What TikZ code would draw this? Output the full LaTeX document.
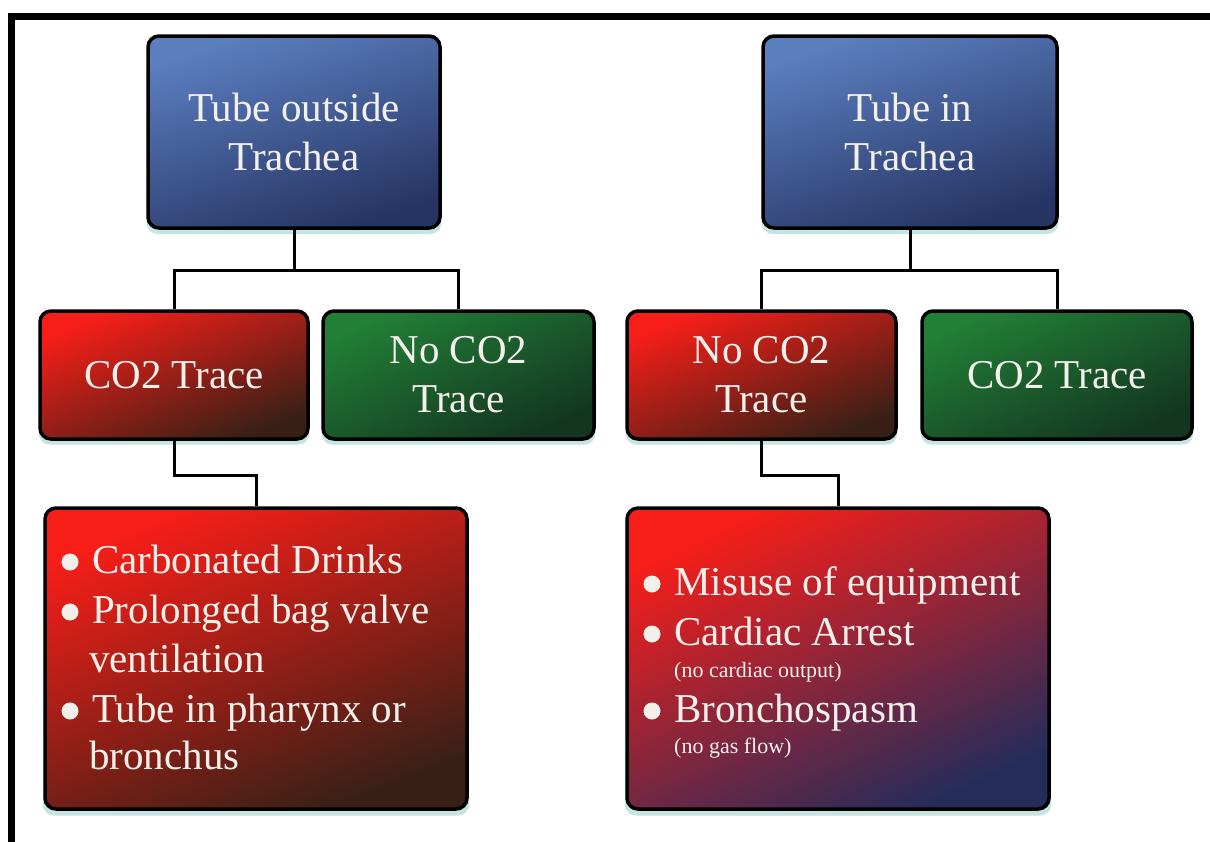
\documentclass[tikz,border=0pt]{standalone}
\usepackage{fontspec}
\setmainfont{Liberation Serif}
\usetikzlibrary{shadows}
\definecolor{txt}{HTML}{F3F0EC}
\definecolor{blueA}{HTML}{5B7EBF}
\definecolor{blueB}{HTML}{263463}
\definecolor{redA}{HTML}{F81E18}
\definecolor{redM}{HTML}{981814}
\definecolor{redB}{HTML}{382016}
\definecolor{greenA}{HTML}{217F36}
\definecolor{greenB}{HTML}{143520}
\definecolor{navyB}{HTML}{262C5A}
\definecolor{redN}{HTML}{8A1A2A}
\definecolor{glow}{HTML}{8CCBC6}
\tikzset{
  box/.style={draw=black, line width=3.5pt, rounded corners=11pt, inner sep=0pt,
    text=txt, font=\fontsize{41}{49}\selectfont, align=center,
    drop shadow={shadow xshift=0pt, shadow yshift=-5pt, shadow scale=1.01, fill=glow, opacity=0.5}},
  bluebox/.style={box, top color=blueA, bottom color=blueB, shading angle=18,
    minimum width=292pt, minimum height=192pt},
  redbox/.style={box, top color=redA, middle color=redM, bottom color=redB, shading angle=22,
    minimum width=269pt, minimum height=128pt},
  greenbox/.style={box, top color=greenA, bottom color=greenB, shading angle=25,
    minimum width=270pt, minimum height=128pt},
  listbox/.style={box, minimum width=422pt, minimum height=301pt},
  conn/.style={draw=black, line width=3pt},
  item/.style={anchor=base west, inner sep=0pt, text=txt, font=\fontsize{41}{49}\selectfont},
  smallitem/.style={anchor=base west, inner sep=0pt, text=txt, font=\fontsize{22}{26}\selectfont},
  dot/.style={circle, fill=txt, inner sep=0pt, minimum size=17pt},
}
\begin{document}
\begin{tikzpicture}[x=1pt, y=-1pt]
\useasboundingbox (0,0) rectangle (1210,841);
\fill[white] (0,0) rectangle (1210,841);
\draw[line width=7pt] (11.5,850) -- (11.5,16.5) -- (1220,16.5);

\coordinate (j1) at (294,270);
\coordinate (j2) at (910,270);
\coordinate (k1) at (174,475);
\coordinate (k2) at (761.5,475);

\node[bluebox] (t1) at (294,132) {Tube outside\\Trachea};
\node[bluebox, minimum width=294pt] (t2) at (910,132) {Tube in\\Trachea};

\node[redbox, minimum width=268pt] (a1) at (174,375) {CO2 Trace};
\node[greenbox, minimum width=271pt] (a2) at (458.5,375) {No CO2\\Trace};
\node[redbox] (b1) at (761.5,375) {No CO2\\Trace};
\node[greenbox] (b2) at (1057,375) {CO2 Trace};

\node[listbox, top color=redA, middle color=redM, bottom color=redB, shading angle=22] (c1) at (256,658.5) {};
\node[listbox, top color=redA, middle color=redN, bottom color=navyB, shading angle=25] (c2) at (838,658.5) {};

\draw[conn] (t1.south) -- (j1) -| (a1.north);
\draw[conn] (j1) -| (a2.north);
\draw[conn] (t2.south) -- (j2) -| (b1.north);
\draw[conn] (j2) -| (b2.north);
\draw[conn] (a1.south) -- (k1) -| (c1.north);
\draw[conn] (b1.south) -- (k2) -| (c2.north);

\node[dot] (d1) at (70,562) {};
\node[dot] (d2) at (70,612) {};
\node[dot] (d3) at (70,711) {};
\node[item] (c1a) at (92,573) {Carbonated Drinks};
\node[item] (c1b) at (92,623) {Prolonged bag valve};
\node[item] (c1c) at (89,672) {ventilation};
\node[item] (c1d) at (92,722) {Tube in pharynx or};
\node[item] (c1e) at (89,769) {bronchus};

\node[dot] (d4) at (652,584) {};
\node[dot] (d5) at (652,634) {};
\node[dot] (d6) at (652,711) {};
\node[item] (c2a) at (674,595) {Misuse of equipment};
\node[item] (c2b) at (674,645) {Cardiac Arrest};
\node[smallitem] (c2c) at (674,677) {(no cardiac output)};
\node[item] (c2d) at (674,722) {Bronchospasm};
\node[smallitem] (c2e) at (674,753) {(no gas flow)};
\end{tikzpicture}
\end{document}
